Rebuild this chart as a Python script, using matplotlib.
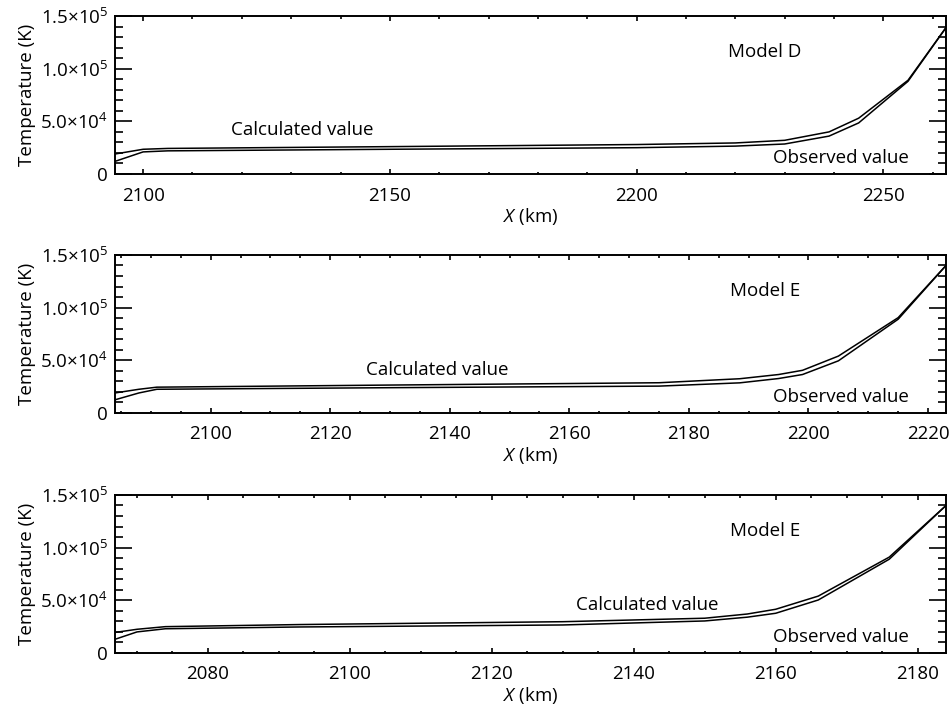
import matplotlib
matplotlib.use('Agg')
import matplotlib.pyplot as plt
from matplotlib.ticker import MultipleLocator, FixedLocator, FixedFormatter

plt.rcParams['font.family'] = ['Open Sans', 'DejaVu Sans']
plt.rcParams['mathtext.fontset'] = 'custom'
plt.rcParams['mathtext.rm'] = 'Open Sans'
plt.rcParams['mathtext.it'] = 'Open Sans:italic'

# Panel 1 - Model D
x_d = [2094.3, 2100, 2105, 2150, 2200, 2220, 2230, 2239, 2245, 2255, 2262.7]
calc_d = [19e3, 23.5e3, 24.3e3, 26e3, 28e3, 29.5e3, 32e3, 40e3, 53e3, 89e3, 139e3]
obs_d = [12e3, 21e3, 22e3, 23.5e3, 25e3, 26.5e3, 28.5e3, 36e3, 48.5e3, 88e3, 139e3]

# Panel 2 - Model E
x_e1 = [2084, 2088, 2091, 2130, 2175, 2188.5, 2195, 2199, 2205, 2215, 2223]
calc_e1 = [19e3, 22.5e3, 24.5e3, 26.5e3, 28.7e3, 32.5e3, 36.5e3, 40.5e3, 54e3, 90.5e3, 140e3]
obs_e1 = [12.5e3, 19e3, 22.5e3, 24e3, 25.5e3, 28.6e3, 32.7e3, 36.5e3, 49.5e3, 89e3, 140e3]

# Panel 3 - Model E
x_e2 = [2066.9, 2070, 2074, 2093, 2130, 2150, 2156, 2160, 2166, 2176, 2184]
calc_e2 = [19.5e3, 22.5e3, 25e3, 27e3, 29.7e3, 33e3, 37e3, 41.5e3, 54e3, 91e3, 140e3]
obs_e2 = [13e3, 20e3, 23e3, 24.7e3, 26.6e3, 30.4e3, 34e3, 37.7e3, 50.3e3, 89e3, 140e3]

y_ticks = [0, 5e4, 1e5, 1.5e5]
y_ticklabels = ['0', '5.0×10$^{4}$', '1.0×10$^{5}$', '1.5×10$^{5}$']

panels = [
    dict(x=x_d, calc=calc_d, obs=obs_d, model='Model D', major=50, minor=10,
         bottom=0.7542, calc_pos=(302, 42e3)),
    dict(x=x_e1, calc=calc_e1, obs=obs_e1, model='Model E', major=20, minor=5,
         bottom=0.4167, calc_pos=(437, 41e3)),
    dict(x=x_e2, calc=calc_e2, obs=obs_e2, model='Model E', major=20, minor=5,
         bottom=0.0777, calc_pos=(647, 45.6e3)),
]

fs = 13.5
fig = plt.figure(figsize=(9.52, 7.08), dpi=100)
left, width, height = 0.1208, 0.8729, 0.2232

for p in panels:
    ax = fig.add_axes([left, p['bottom'], width, height])
    ax.plot(p['x'], p['calc'], color='black', lw=1.1)
    ax.plot(p['x'], p['obs'], color='black', lw=1.1)
    ax.set_xlim(p['x'][0], p['x'][-1])
    ax.set_ylim(0, 1.5e5)

    ax.xaxis.set_major_locator(MultipleLocator(p['major']))
    ax.xaxis.set_minor_locator(MultipleLocator(p['minor']))
    ax.yaxis.set_major_locator(FixedLocator(y_ticks))
    ax.yaxis.set_major_formatter(FixedFormatter(y_ticklabels))
    ax.yaxis.set_minor_locator(MultipleLocator(1e4))

    ax.tick_params(axis='both', which='both', direction='in', top=True, right=True,
                   labelsize=fs, width=1.2)
    ax.tick_params(axis='y', which='major', length=12, pad=5)
    ax.tick_params(axis='y', which='minor', length=6)
    ax.tick_params(axis='x', which='major', length=3.6, pad=9)
    ax.tick_params(axis='x', which='minor', length=1.8)
    for s in ax.spines.values():
        s.set_linewidth(1.4)

    ax.set_xlabel(r'$\mathit{X}$ (km)', fontsize=fs, labelpad=1)
    ax.set_ylabel('Temperature (K)', fontsize=fs, labelpad=3)

    # annotations positioned in axes pixel space
    tr = ax.transAxes
    ax.text((765 - 115) / 831, 0.77, p['model'], transform=tr, fontsize=fs,
            ha='center', va='center')
    ax.text((841 - 115) / 831, 0.10, 'Observed value', transform=tr, fontsize=fs,
            ha='center', va='center')
    cx = p['x'][0] + (p['calc_pos'][0] - 115) / 831 * (p['x'][-1] - p['x'][0])
    ax.text(cx, p['calc_pos'][1], 'Calculated value', fontsize=fs,
            ha='center', va='center')

fig.savefig('out.png', dpi=100)
